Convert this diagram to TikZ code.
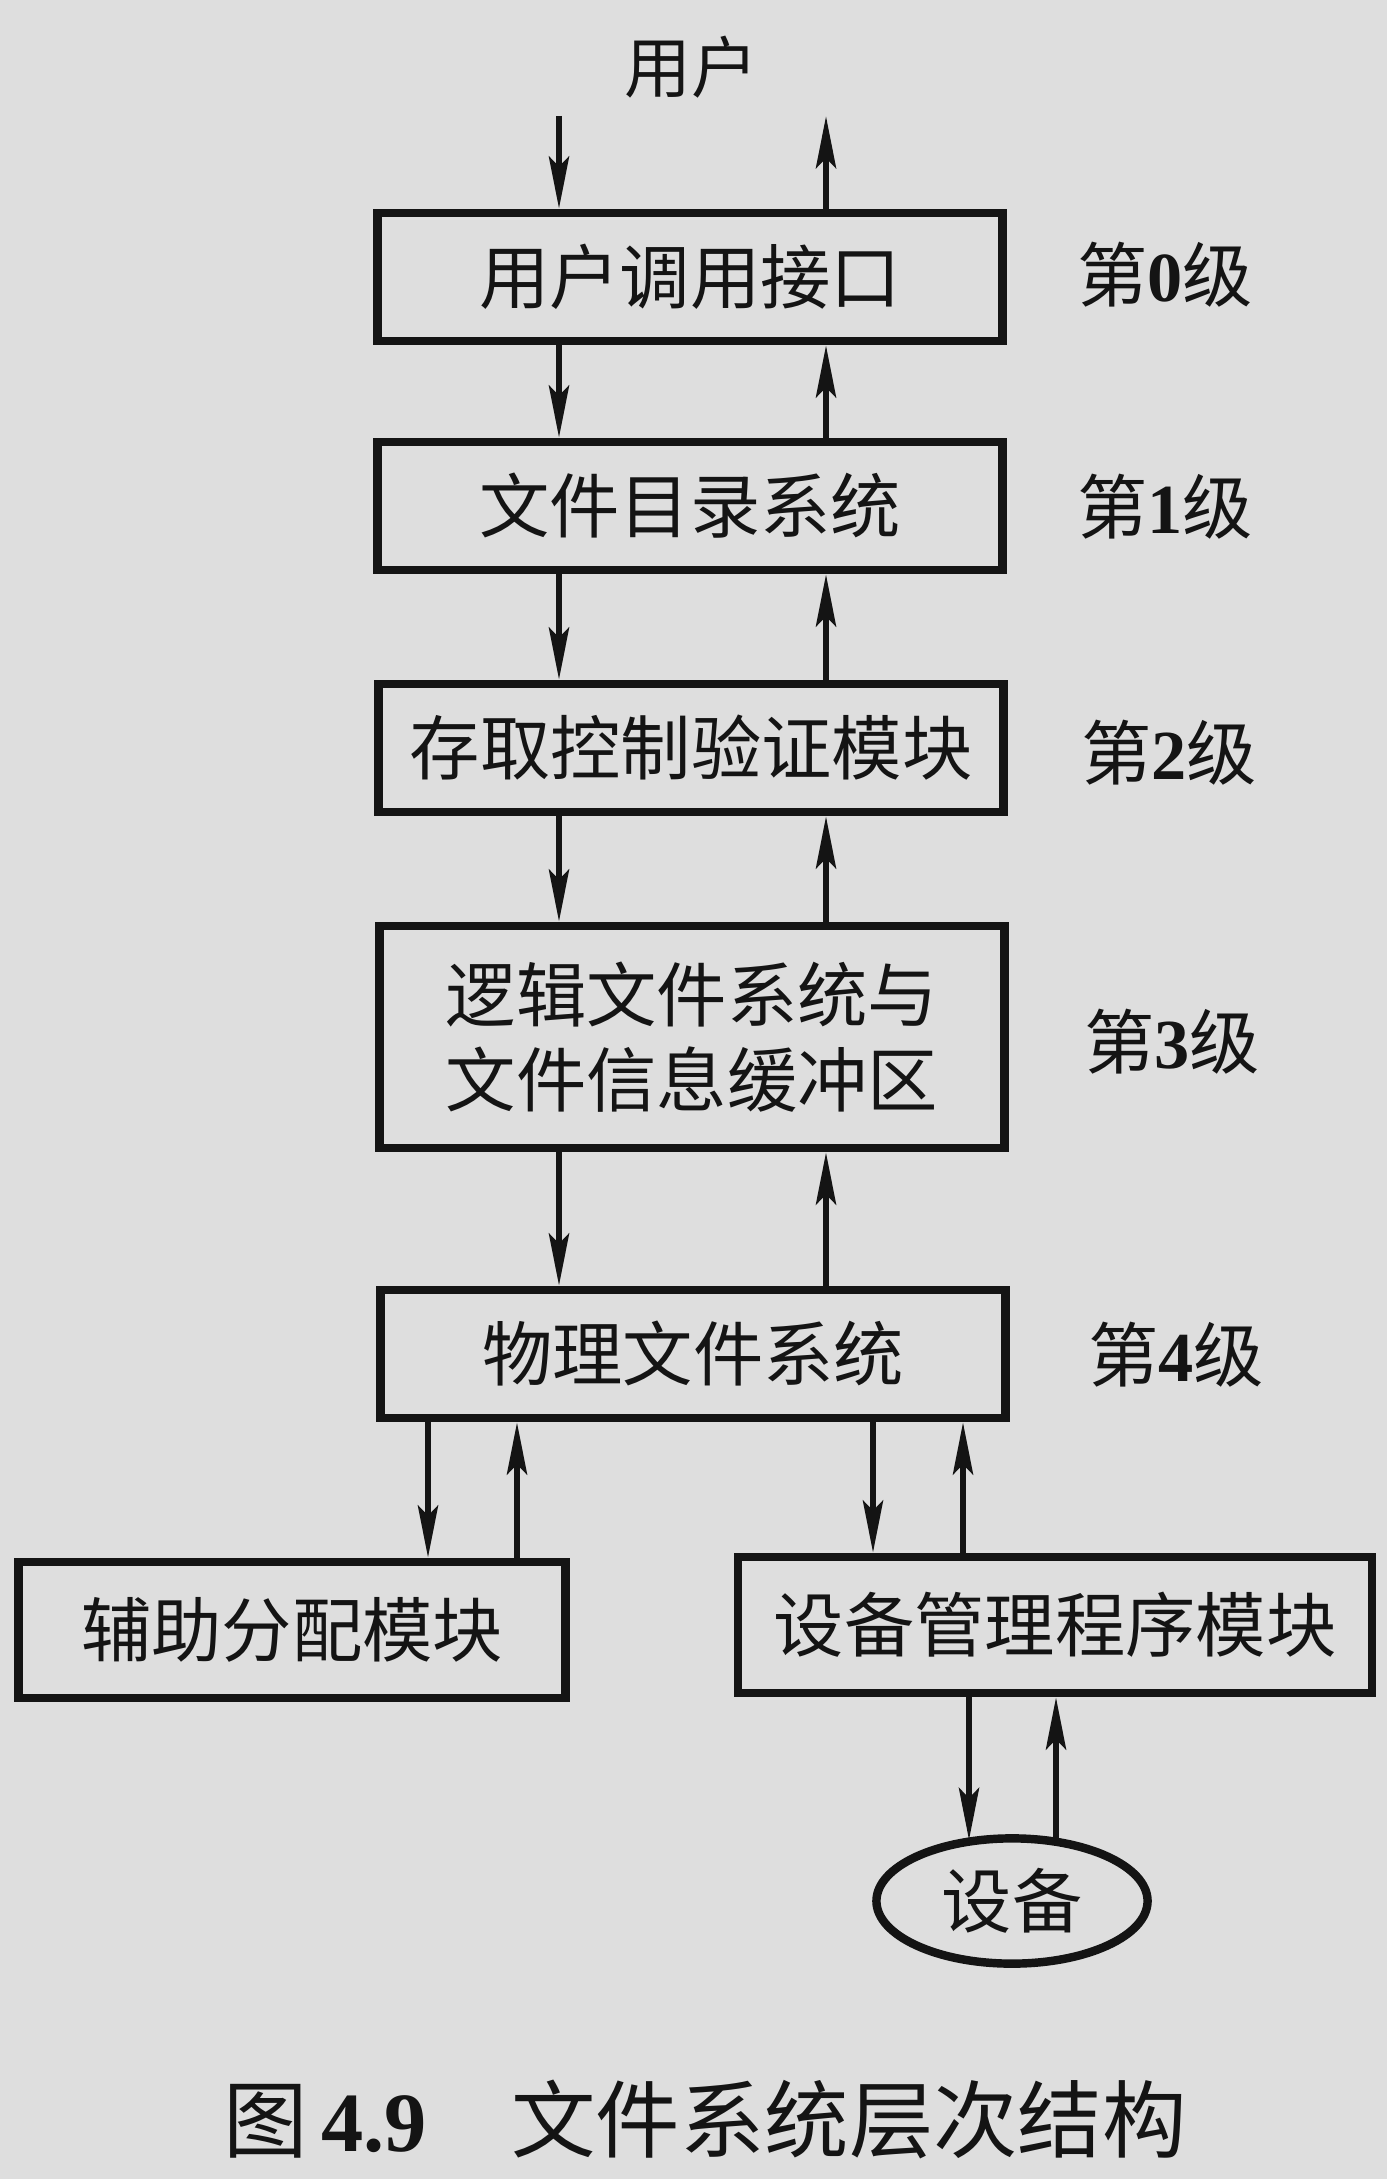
\documentclass[tikz,border=0pt]{standalone}
\usepackage{fontspec}
\setmainfont{Liberation Serif}
\newfontfamily\cjk{Noto Sans CJK SC}
\usepackage{tikz}
\usetikzlibrary{arrows.meta,shapes.geometric,calc}
\definecolor{paper}{HTML}{DEDEDE}
\definecolor{ink}{HTML}{141414}
\newcommand{\lvl}[1]{{\cjk 第}\textbf{#1}{\cjk 级}}

\tikzset{
  box/.style={draw=ink,line width=2.4pt,minimum width=6.25cm,minimum height=1.28cm,
    font=\cjk\fontsize{20}{24}\selectfont,text=ink,align=center},
  flow/.style={draw=ink,line width=1.9pt,-{Stealth[length=0.52cm,width=0.2cm,inset=0.1cm]}},
  lvlabel/.style={font=\fontsize{20}{24}\selectfont,text=ink}
}

\begin{document}
\begin{tikzpicture}[x=0.01cm,y=-0.01cm]
\fill[paper] (0,0) rectangle (1387,2179);
\useasboundingbox (0,0) rectangle (1387,2179);

% columns of the arrows
\coordinate (dn) at (559,0);
\coordinate (up) at (826,0);
\coordinate (auxdn) at (428,0);
\coordinate (auxup) at (517,0);
\coordinate (devdn) at (873,0);
\coordinate (devup) at (963,0);
\coordinate (eldn) at (969,0);
\coordinate (elup) at (1056,0);
\coordinate (top) at (0,116);

\node[font=\cjk\fontsize{19}{22}\selectfont,text=ink] (user) at (691,67) {用户};

\node[box] (b0) at (690,277) {用户调用接口};
\node[box] (b1) at (690,506) {文件目录系统};
\node[box] (b2) at (691,748) {存取控制验证模块};
\node[box,minimum height=2.22cm] (b3) at (692,1037) {逻辑文件系统与\\文件信息缓冲区};
\node[box] (b4) at (693,1354) {物理文件系统};
\node[box,minimum width=5.47cm,minimum height=1.36cm] (aux) at (292,1630) {辅助分配模块};
\node[box,minimum width=6.34cm,minimum height=1.36cm] (dev) at (1055,1625) {设备管理程序模块};
\node[draw=ink,line width=2.4pt,ellipse,minimum width=2.71cm,minimum height=1.18cm,
  font=\cjk\fontsize{20}{24}\selectfont,text=ink] (el) at (1012,1901) {设备};

\node[lvlabel] (l0) at (1165,275) {\lvl{0}};
\node[lvlabel] (l1) at (1165,507) {\lvl{1}};
\node[lvlabel] (l2) at (1169,753) {\lvl{2}};
\node[lvlabel] (l3) at (1172,1042) {\lvl{3}};
\node[lvlabel] (l4) at (1176,1355) {\lvl{4}};

% user <-> level 0
\draw[flow] (dn |- top) -- (dn |- b0.north);
\draw[flow] (up |- b0.north) -- (up |- top);

% between the levels
\foreach \a/\b in {b0/b1,b1/b2,b2/b3,b3/b4}{
  \draw[flow] (dn |- \a.south) -- (dn |- \b.north);
  \draw[flow] (up |- \b.north) -- (up |- \a.south);
}

\draw[flow] (auxdn |- b4.south) -- (auxdn |- aux.north);
\draw[flow] (auxup |- aux.north) -- (auxup |- b4.south);
\draw[flow] (devdn |- b4.south) -- (devdn |- dev.north);
\draw[flow] (devup |- dev.north) -- (devup |- b4.south);
\draw[flow] (eldn |- dev.south) -- ($(eldn |- el.north)+(0,6)$);
\draw[flow] ($(elup |- el.north)+(0,6)$) -- (elup |- dev.south);

\node[font=\fontsize{24}{28}\selectfont,text=ink] (cap) at (705,2119)
  {{\cjk 图}\,\textbf{4.9}\quad{\cjk 文件系统层次结构}};
\end{tikzpicture}
\end{document}
